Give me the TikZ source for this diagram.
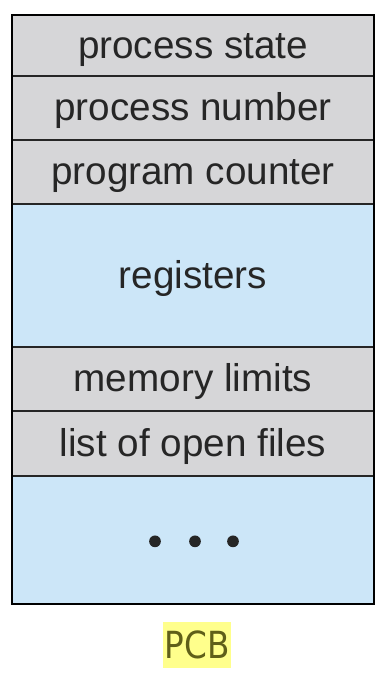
\documentclass[tikz,border=0pt]{standalone}
\usepackage{fontspec}
\usepackage{graphicx}
\setmainfont{Liberation Sans}
\newfontfamily\labelfont{DejaVu Sans}
\usetikzlibrary{positioning}

\definecolor{rowgray}{RGB}{214,214,216}
\definecolor{rowblue}{RGB}{204,230,248}
\definecolor{pcbyellow}{RGB}{255,255,140}
\definecolor{pcbtext}{RGB}{95,95,25}

\tikzset{
  field/.style={draw=black!85, line width=1.1pt, outer sep=0pt, inner sep=0pt,
    minimum width=271.5pt, text height=21pt, text depth=2pt,
    font=\fontsize{29}{34}\selectfont, text=black!85},
  plain/.style={field, fill=rowgray, minimum height=48pt},
  wide/.style={field, fill=rowblue},
}

\begin{document}
\begin{tikzpicture}
  \useasboundingbox (0,0) rectangle (288.75pt,-507pt);
  % Fields of the block, top to bottom.
  \node[plain, anchor=north west, minimum height=45.75pt] (state) at (9pt,-11.25pt) {process state};
  \node[plain, below=0pt of state] (number) {process number};
  \node[plain, below=0pt of number] (counter) {program counter};
  \node[wide, below=0pt of counter, minimum height=107.25pt] (registers) {registers};
  \node[plain, below=0pt of registers] (memory) {memory limits};
  \node[plain, below=0pt of memory, minimum height=48.75pt] (files) {list of open files};
  \node[wide, below=0pt of files, minimum height=96pt] (more) {};
  \foreach \dx in {-28.5pt,1.5pt,30pt} { \fill[black!85] ([xshift=\dx, yshift=-1pt]more.center) circle (4.4pt); }
  % Outer frame.
  \draw[black, line width=1.7pt] (state.north west) rectangle (more.south east);
  % Caption.
  \node[fill=pcbyellow, text=pcbtext, inner sep=0pt, minimum width=51pt, minimum height=34.5pt,
    font=\labelfont\fontsize{25}{30}\selectfont] (pcb) at (147.75pt,-483.75pt) {\scalebox{0.98}[1.12]{PCB}};
\end{tikzpicture}
\end{document}
